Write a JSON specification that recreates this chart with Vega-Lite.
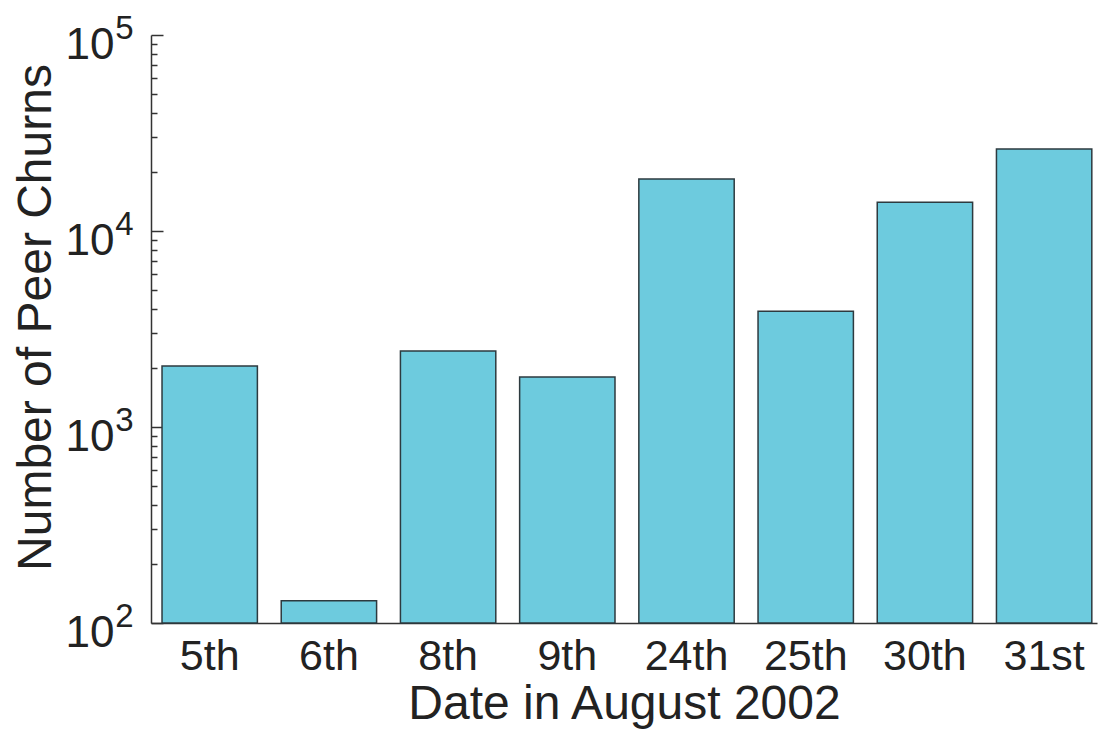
{
  "$schema": "https://vega.github.io/schema/vega-lite/v6.json",
  "width": 946,
  "height": 588,
  "autosize": {"type": "none"},
  "padding": {"left": 151, "top": 35, "right": 2, "bottom": 107},
  "background": "white",
  "config": {"view": {"stroke": null}, "font": "Liberation Sans"},
  "data": {
    "values": [
      {"date": "5th", "churns": 2050},
      {"date": "6th", "churns": 130},
      {"date": "8th", "churns": 2440},
      {"date": "9th", "churns": 1800},
      {"date": "24th", "churns": 18400},
      {"date": "25th", "churns": 3900},
      {"date": "30th", "churns": 14000},
      {"date": "31st", "churns": 26200}
    ]
  },
  "encoding": {
    "x": {
      "field": "date",
      "type": "nominal",
      "sort": null,
      "scale": {"paddingInner": 0.2, "paddingOuter": 0.068, "align": 0.68},
      "axis": {
        "title": "Date in August 2002",
        "labelAngle": 0,
        "ticks": false,
        "tickSize": 0,
        "labelFont": "Liberation Sans",
        "labelFontSize": 43,
        "labelPadding": 46,
        "labelBaseline": "alphabetic",
        "labelColor": "#222222",
        "titleFont": "Liberation Sans",
        "titleFontSize": 48,
        "titleFontWeight": "normal",
        "titleColor": "#222222",
        "titleBaseline": "alphabetic",
        "titleY": 95,
        "domainColor": "#333333",
        "domainWidth": 1.5
      }
    }
  },
  "layer": [
    {
      "mark": {"type": "bar", "color": "#6dcbde", "stroke": "#2d3a3f", "strokeWidth": 1.5},
      "encoding": {
        "y": {
          "field": "churns",
          "type": "quantitative",
          "scale": {"type": "log", "domain": [100, 100000], "nice": false},
          "axis": {
            "orient": "left",
            "title": "Number of Peer Churns",
            "values": [100, 200, 300, 400, 500, 600, 700, 800, 900, 1000, 2000, 3000, 4000, 5000, 6000, 7000, 8000, 9000, 10000, 20000, 30000, 40000, 50000, 60000, 70000, 80000, 90000, 100000],
            "labelExpr": "indexof([100, 1000, 10000, 100000], datum.value) >= 0 ? '10' : ''",
            "tickSize": {"condition": {"test": "indexof([100, 1000, 10000, 100000], datum.value) >= 0", "value": -12}, "value": -6},
            "tickColor": "#333333",
            "tickWidth": 1.5,
            "domainColor": "#333333",
            "domainWidth": 1.5,
            "grid": false,
            "labelOverlap": false,
            "labelBound": false,
            "labelFlush": false,
            "labelFont": "Liberation Sans",
            "labelFontSize": 44,
            "labelColor": "#222222",
            "labelAlign": "right",
            "labelBaseline": "alphabetic",
            "labelOffset": 23,
            "labelPadding": 49,
            "titleFont": "Liberation Sans",
            "titleFontSize": 48,
            "titleFontWeight": "normal",
            "titleColor": "#222222",
            "titleAngle": -90,
            "titleAlign": "center",
            "titleBaseline": "alphabetic",
            "titleX": -101,
            "titleY": 282
          }
        },
        "y2": {"datum": 100}
      }
    },
    {
      "mark": {"type": "bar", "fillOpacity": 0, "strokeOpacity": 0},
      "encoding": {
        "y": {
          "field": "churns",
          "type": "quantitative",
          "axis": {
            "orient": "left",
            "title": null,
            "values": [100, 1000, 10000, 100000],
            "labelExpr": "'' + round(log(datum.value) / LN10)",
            "ticks": false,
            "tickSize": 0,
            "domain": false,
            "grid": false,
            "labelOverlap": false,
            "labelBound": false,
            "labelFlush": false,
            "labelFont": "Liberation Sans",
            "labelFontSize": 33,
            "labelColor": "#222222",
            "labelAlign": "right",
            "labelBaseline": "alphabetic",
            "labelOffset": 3,
            "labelPadding": 18
          }
        },
        "y2": {"datum": 100}
      }
    }
  ],
  "resolve": {"axis": {"y": "independent"}}
}
